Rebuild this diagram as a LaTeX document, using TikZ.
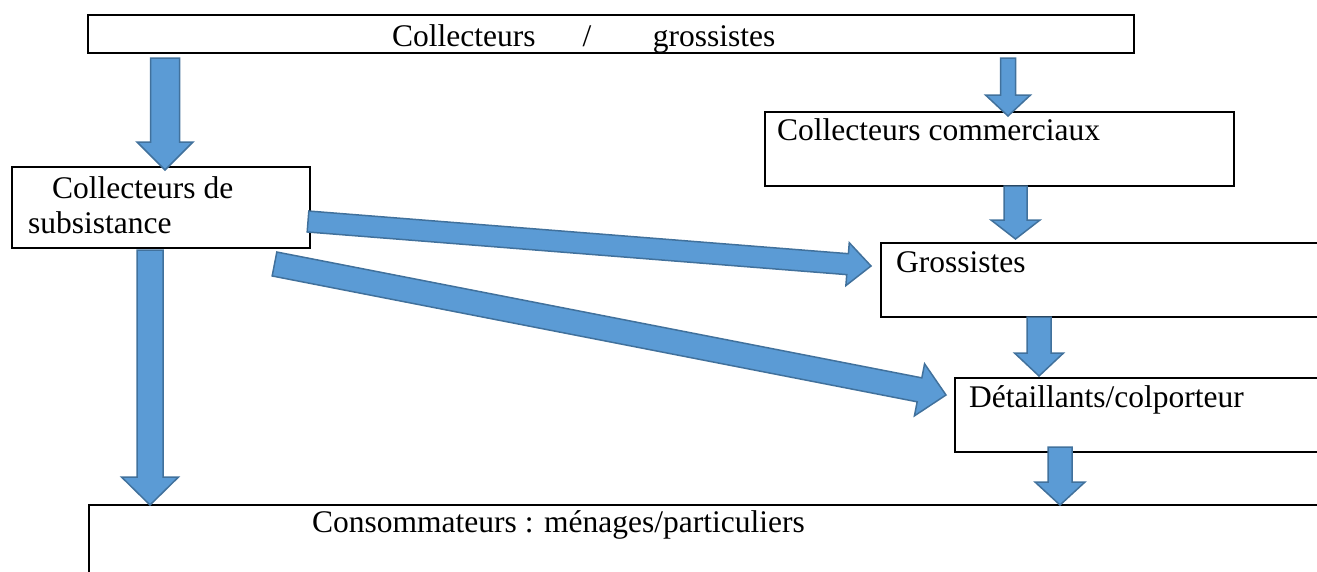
\documentclass[tikz,border=0pt]{standalone}
\usepackage{fontspec}
\setmainfont{Liberation Serif}
\usetikzlibrary{calc}
\definecolor{afill}{HTML}{5B9BD5}
\definecolor{adraw}{HTML}{41719C}
\tikzset{
  box/.style={draw=black, line width=2pt, rectangle, inner sep=0pt, outer sep=0pt, anchor=north west},
  lbl/.style={anchor=base west, inner sep=0pt, font=\fontsize{31.5}{35}\selectfont},
  fat/.style={fill=afill, draw=adraw, line width=1.5pt, line join=miter},
}
% #1 start, #2 tip, #3 half shaft width, #4 half head width, #5 head length
\newcommand\fatarrow[5]{%
  \coordinate (fa-c) at ($(#2)!#5!(#1)$);
  \filldraw[fat] ($(#1)!#3!90:(#2)$) -- ($(fa-c)!#3!90:(#2)$) -- ($(fa-c)!#4!90:(#2)$)
    -- (#2) -- ($(fa-c)!#4!-90:(#2)$) -- ($(fa-c)!#3!-90:(#2)$) -- ($(#1)!#3!-90:(#2)$) -- cycle;}
\begin{document}
\begin{tikzpicture}[x=1pt,y=-1pt]
\useasboundingbox (0,0) rectangle (1317,571);
\clip (0,0) rectangle (1317,571);
% boxes
\node[box, minimum width=1046pt, minimum height=38pt] (top) at (88,15) {};
\node[box, minimum width=298pt, minimum height=81pt] (sub) at (12,167) {};
\node[box, minimum width=469pt, minimum height=74pt] (com) at (765,112) {};
\node[box, minimum width=500pt, minimum height=74pt] (gro) at (881,243) {};
\node[box, minimum width=420pt, minimum height=74pt] (det) at (955,378) {};
\node[box, minimum width=1300pt, minimum height=100pt] (con) at (89,505) {};
% texts
\node[lbl] (ttop) at (392,46) {Collecteurs\hspace{47pt}/\hspace{61.5pt}grossistes};
\node[lbl] (tsub1) at (52,198) {Collecteurs de};
\node[lbl] (tsub2) at (28,233) {subsistance};
\node[lbl] (tcom) at (777,140) {Collecteurs commerciaux};
\node[lbl] (tgro) at (896,272) {Grossistes};
\node[lbl] (tdet) at (969,407) {Détaillants/colporteur};
\node[lbl] (tcon) at (312,532) {Consommateurs : ménages/particuliers};
% arrow end points
\coordinate (a1s) at ([yshift=-5pt]top.south -| 165,0);
\coordinate (a1t) at ([yshift=-3pt]sub.north -| 165,0);
\coordinate (a2s) at ([yshift=-5pt]top.south -| 1008,0);
\coordinate (a2t) at ([yshift=-4pt]com.north -| 1008,0);
\coordinate (a3s) at (com.south -| 1015.5,0);
\coordinate (a3t) at ([yshift=4pt]gro.north -| 1015.5,0);
\coordinate (a4s) at (gro.south -| 1039,0);
\coordinate (a4t) at ([yshift=2pt]det.north -| 1039,0);
\coordinate (a5s) at ([yshift=5pt]det.south -| 1060,0);
\coordinate (a5t) at (con.north -| 1060,0);
\coordinate (a6s) at ([yshift=-2pt]sub.south -| 150,0);
\coordinate (a6t) at (con.north -| 150,0);
\coordinate (d1s) at ([shift={(-2,14)}]sub.east);
\coordinate (d1t) at ([shift={(-10,-14)}]gro.west);
\coordinate (d2s) at (274.5,264);
\coordinate (d2t) at ([shift={(-9,-20)}]det.west);
% arrows
\fatarrow{a1s}{a1t}{14.5pt}{28pt}{28pt}
\fatarrow{a2s}{a2t}{7.5pt}{22.5pt}{21pt}
\fatarrow{a3s}{a3t}{11.5pt}{24.5pt}{19pt}
\fatarrow{a4s}{a4t}{12pt}{24.5pt}{23pt}
\fatarrow{a5s}{a5t}{12pt}{25pt}{23pt}
\fatarrow{a6s}{a6t}{13pt}{28.5pt}{28pt}
\fatarrow{d1s}{d1t}{10.5pt}{21.5pt}{23.5pt}
\fatarrow{d2s}{d2t}{12.2pt}{26.5pt}{27pt}
\end{tikzpicture}
\end{document}
